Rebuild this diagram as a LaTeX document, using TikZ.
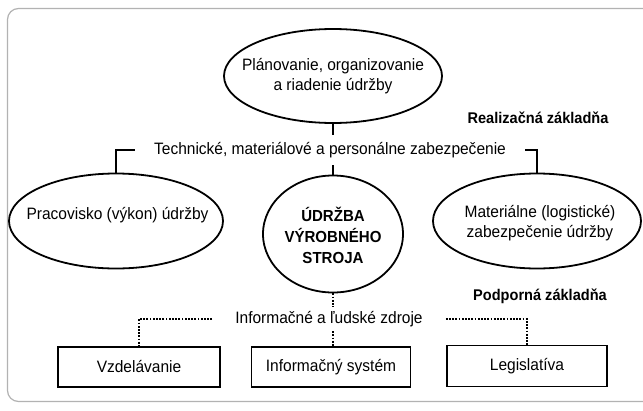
\documentclass[tikz,border=0pt]{standalone}
\usepackage{fontspec}
\setmainfont{Liberation Sans}[FakeStretch=0.94]
\usetikzlibrary{shapes.geometric}

\begin{document}
\begin{tikzpicture}[x=1pt, y=-1pt,
  font=\fontsize{16.5}{19.5}\selectfont,
  frame/.style={draw=black!30, line width=1.2pt, rounded corners=11pt},
  oval/.style={draw, ellipse, line width=1.8pt, inner sep=0pt},
  lbl/.style={align=center, inner sep=0pt},
  boxnode/.style={draw, rectangle, line width=1.8pt, inner sep=0pt},
  heading/.style={font=\fontsize{15.5}{18}\selectfont\bfseries},
  solidlink/.style={line width=2.2pt},
  dotlink/.style={line width=2.2pt, dash pattern=on 1.8pt off 1.4pt},
  midtext/.style={text height=11pt, text depth=3pt, inner ysep=8pt}
]
\useasboundingbox (0,0) rectangle (643,410);
\clip (0,0) rectangle (643,410);

% frame around the whole scheme
\draw[frame] (7.5,8.5) rectangle (690,401.5);

% planning level
\node[oval, minimum width=218, minimum height=94,
  label={[lbl]center:{Plánovanie, organizovanie\\a riadenie údržby}}] (plan) at (333,76) {};

\node[heading] (real) at (538,118) {Realizačná základňa};

% technical, material and personnel support
\node[midtext, inner xsep=19pt] (tech) at (330,150)
  {Technické, materiálové a personálne zabezpečenie};

% three central areas
\node[oval, minimum width=214, minimum height=95,
  label={[lbl, xshift=1.5pt, yshift=6pt]center:{Pracovisko (výkon) údržby}}] (work) at (116,221) {};
\node[oval, minimum width=140, minimum height=117,
  label={[lbl, font=\fontsize{16}{21}\selectfont\bfseries, yshift=-1pt]center:{ÚDRŽBA\\VÝROBNÉHO\\STROJA}}] (core) at (333,234) {};
\node[oval, minimum width=208, minimum height=95,
  label={[lbl, xshift=3pt, yshift=-2pt]center:{Materiálne (logistické)\\zabezpečenie údržby}}] (supply) at (537,221) {};

% solid links of the realisation base
\draw[solidlink] (plan.south) -- (plan.south |- tech.north);
\draw[solidlink] (core.north |- tech.south) -- (core.north);
\draw[solidlink] (tech.west) -| (work.north);
\draw[solidlink] (tech.east) -| (supply.north);

% supporting base
\node[heading] (supp) at (540,296) {Podporná základňa};
\node[midtext, inner xsep=23pt, inner ysep=5pt] (info) at (329,319)
  {Informačné a ľudské zdroje};

\node[boxnode, minimum width=162, minimum height=40] (edu) at (139,367) {Vzdelávanie};
\node[boxnode, minimum width=159, minimum height=40] (isys) at (331,367) {Informačný systém};
\node[boxnode, minimum width=160, minimum height=41] (leg) at (527,366) {Legislatíva};

% dotted links of the supporting base
\draw[dotlink] (core.south) -- (core.south |- info.north);
\draw[dotlink] (core.south |- info.south) -- (core.south |- isys.north);
\draw[dotlink] (info.west) -| (edu.north);
\draw[dotlink] (info.east) -| (leg.north);
\end{tikzpicture}
\end{document}
